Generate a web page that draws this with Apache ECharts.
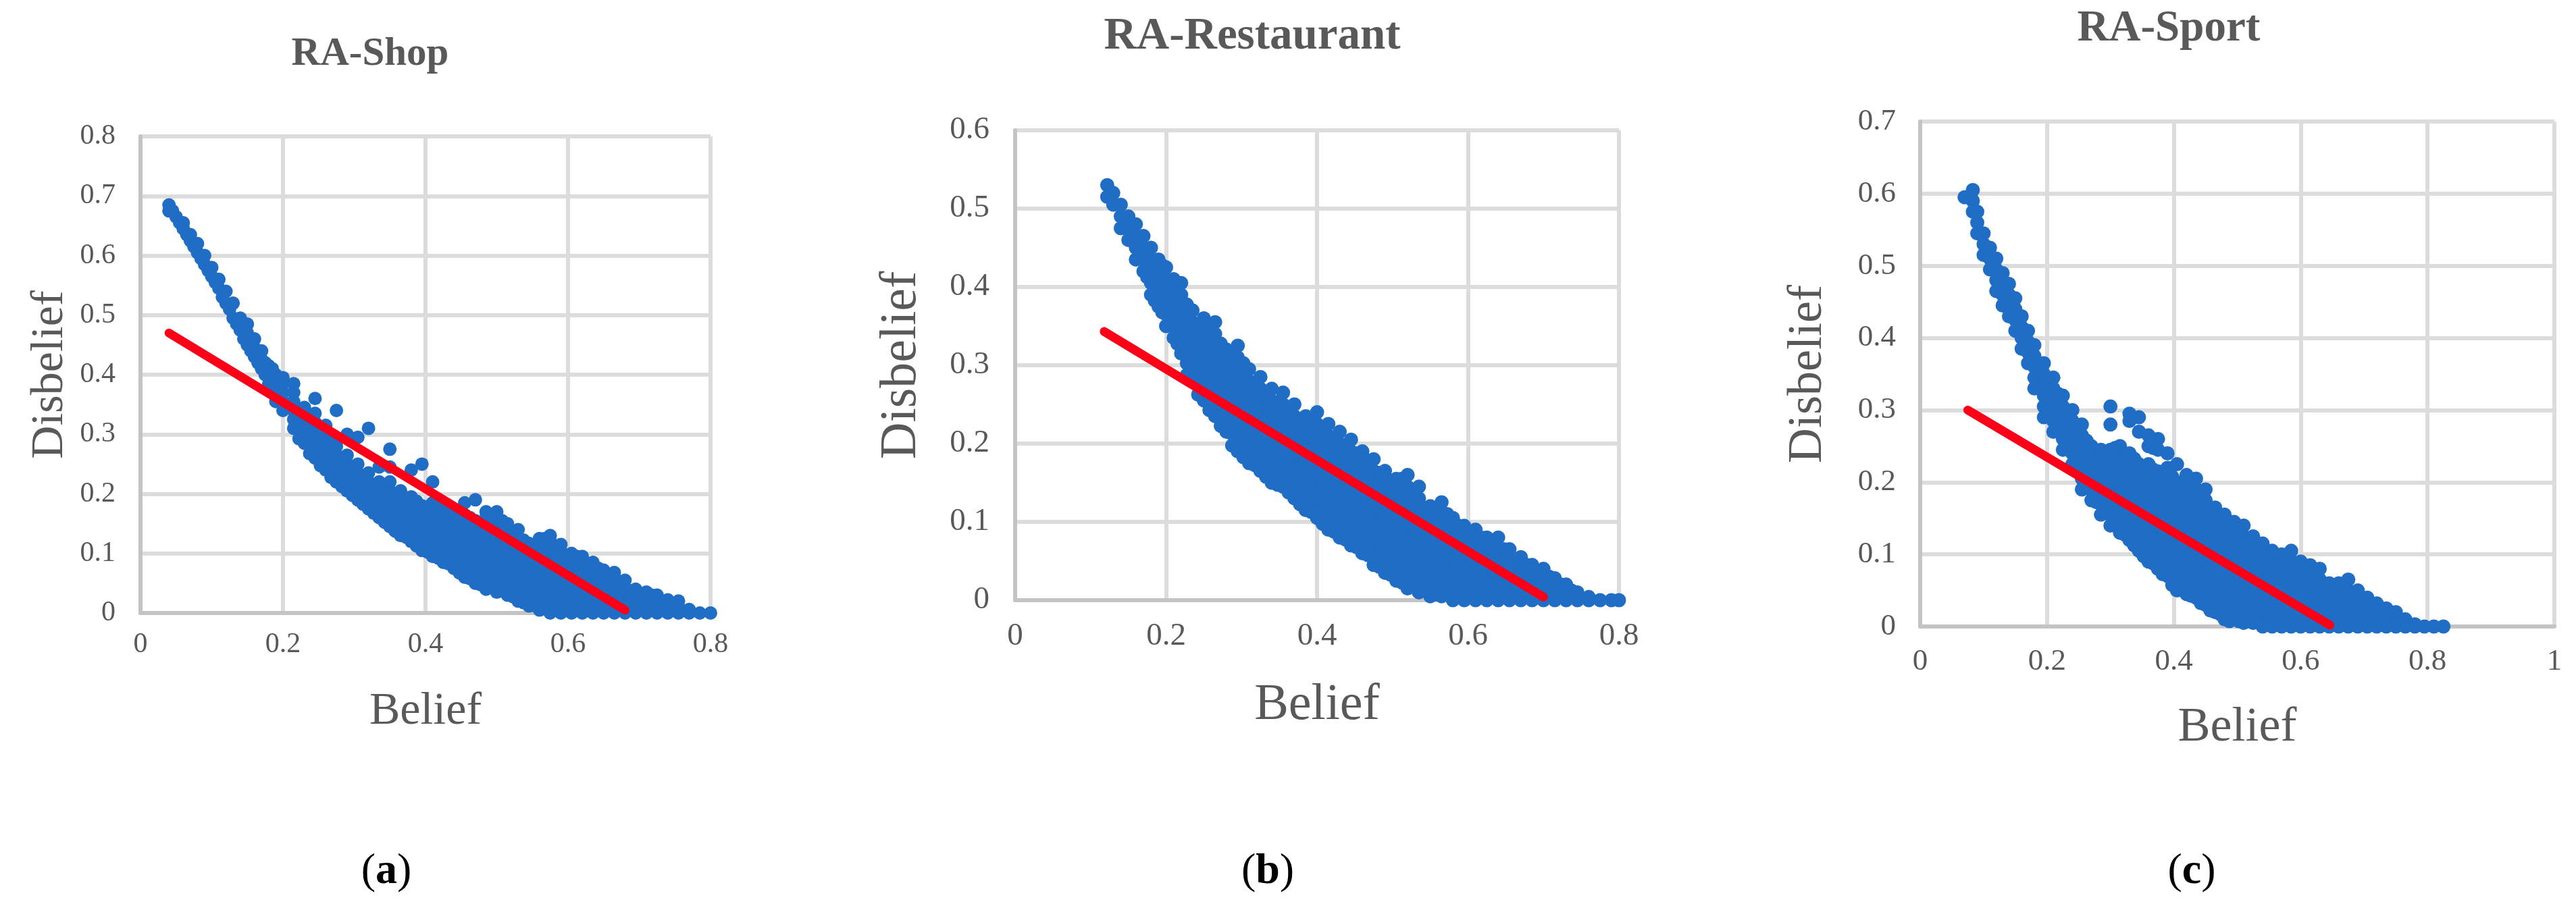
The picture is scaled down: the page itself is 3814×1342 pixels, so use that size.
<!DOCTYPE html>
<html>
<head>
<meta charset="utf-8">
<title>RA belief vs disbelief</title>
<script src="https://cdn.jsdelivr.net/npm/echarts@6/dist/echarts.min.js"></script>
<style>
  html, body { margin: 0; padding: 0; background: #fff; }
  #chart { width: 3814px; height: 1342px; }
</style>
</head>
<body>
<div id="chart"></div>
<script>
const shopBelief = [.04,.05,.06,.07,.08,.09,.10,.11,.12,.13,.14,.15,.16,.17,.18,.19,.20,.215,.23,.245,.26,.275,.29,.305,.32,.335,.35,.365,.38,.395,.41,.425,.44,.455,.47,.485,.50,.515,.53,.545,.56,.575,.59,.605,.62,.635,.65,.665,.68,.695,.71,.725,.74,.755,.77,.785,.80]
const shopDisbelief = [
  [.685,.675],[.665],[.645,.655],[.625,.635],[.605,.62],[.585,.60],[.565,.58],[.545,.56],[.52,.54],[.495,.52],
  [.475,.495],[.45,.47,.485],[.43,.445,.46],[.41,.425,.44],[.385,.40,.415],[.355,.37,.385,.40],[.34,.355,.37,.385,.395],
  [.31,.325,.34,.355,.37,.385],[.285,.30,.315,.33,.345],[.26,.275,.29,.305,.32,.335,.36],[.24,.255,.27,.285,.30,.315],
  [.22,.235,.25,.265,.28,.34],[.205,.22,.235,.25,.265,.30],[.19,.205,.22,.235,.25,.295],[.175,.19,.205,.22,.235,.31],
  [.16,.175,.19,.205,.22,.245],[.145,.16,.175,.19,.205,.22,.245,.275],[.13,.145,.16,.175,.19,.205],[.12,.135,.15,.165,.18,.195,.24],
  [.105,.12,.135,.15,.165,.18,.25],[.095,.11,.125,.14,.155,.17,.185,.22],[.085,.10,.115,.13,.145,.16,.175],[.075,.09,.105,.12,.135,.15,.165],
  [.06,.075,.09,.105,.12,.135,.15,.165,.185],[.05,.065,.08,.095,.11,.125,.14,.155,.19],[.04,.055,.07,.085,.10,.115,.13,.145,.16,.17],
  [.035,.05,.065,.08,.095,.11,.125,.14,.155,.17],[.03,.045,.06,.075,.09,.105,.12,.135,.15],[.02,.035,.05,.065,.08,.095,.11,.125,.14],
  [.012,.027,.042,.057,.072,.087,.102,.117],[.005,.02,.035,.05,.065,.08,.095,.11,.125],[0,.015,.03,.045,.06,.075,.09,.105,.12,.13],
  [0,.01,.025,.04,.055,.07,.085,.10,.115],[0,.015,.03,.045,.06,.075,.09,.10],[0,.012,.027,.042,.057,.072,.087,.095],[0,.015,.03,.045,.06,.075,.085],
  [0,.012,.027,.042,.057,.072],[0,.015,.03,.045,.06,.068],[0,.012,.027,.042,.055],[0,.015,.03,.04],[0,.012,.025,.035],[0,.015,.03],[0,.012,.022],
  [0,.01,.02],[0,.006],[0],[0]
]
// points in between the columns above, where the cloud is solid
const shopFillBelief = [.045,.055,.065,.075,.085,.095,.105,.115,.125,.135,.145,.155,.165,.175,.185,.2225,.2375,.2525,.2675,.2825,.2975,.3125,.3275,.3425,.3575,.3725,.3875,.4025,.4175,.4325,.4475,.4625,.4775,.4925,.5075,.5225,.5375,.5525,.5675,.5825,.5975,.6125,.6275,.6425,.6575,.6725,.6875,.7025,.7175,.7325,.7475]
const shopFillDisbelief = [
  [.675],[.655],[.635],[.615],[.595],[.575],[.555],[.53],[.51],[.485],[.46,.48],[.44,.46],[.42,.44],[.40,.42],[.38,.40,.41],
  [.2925,.3075,.3225,.3375],[.2675,.2825,.2975,.3125,.3275],[.2475,.2625,.2775,.2925,.3075],[.2275,.2425,.2575,.2725,.2875],[.2125,.2275,.2425,.2575],
  [.1975,.2125,.2275,.2425],[.1825,.1975,.2125,.2275],[.1675,.1825,.1975,.2125],[.1525,.1675,.1825,.1975,.2125],[.1375,.1525,.1675,.1825,.1975],
  [.1275,.1425,.1575,.1725,.1875],[.1125,.1275,.1425,.1575,.1725,.1875],[.1025,.1175,.1325,.1475,.1625,.1775],[.0925,.1075,.1225,.1375,.1525,.1675,.1775],
  [.0825,.0975,.1125,.1275,.1425,.1575,.17],[.0675,.0825,.0975,.1125,.1275,.1425,.1575],[.0575,.0725,.0875,.1025,.1175,.1325,.1475,.16],
  [.0475,.0625,.0775,.0925,.1075,.1225,.1375,.1525],[.0425,.0575,.0725,.0875,.1025,.1175,.1325,.1475,.16],[.0375,.0525,.0675,.0825,.0975,.1125,.1275,.1425,.155],
  [.0275,.0425,.0575,.0725,.0875,.1025,.1175,.1325],[.0175,.0325,.0475,.0625,.0775,.0925,.1075,.1225],[.0125,.0275,.0425,.0575,.0725,.0875,.1025,.115],
  [.0075,.0225,.0375,.0525,.0675,.0825,.0975,.1125,.125],[.0075,.0225,.0375,.0525,.0675,.0825,.0975,.1125],[.0075,.0225,.0375,.0525,.0675,.0825,.0975],
  [.0075,.0225,.0375,.0525,.0675,.0825,.095],[.0075,.0225,.0375,.0525,.0675,.08],[.0075,.0225,.0375,.0525,.0675,.075],[.0075,.0225,.0375,.0525,.0625],
  [.0075,.0225,.0375,.05],[.0075,.0225,.0375],[.0075,.0225,.0325],[.0075,.02,.03],[.0075,.02],[.0075,.015]
]
const shopLine = [[.04,.47],[.68,.005]]

const restaurantBelief = [.122,.13,.14,.15,.16,.17,.18,.19,.20,.21,.22,.235,.25,.265,.28,.295,.31,.325,.34,.355,.37,.385,.40,.415,.43,.445,.46,.475,.49,.505,.52,.535,.55,.565,.58,.595,.61,.625,.64,.655,.67,.685,.70,.715,.73,.745,.76,.775,.79,.80]
const restaurantDisbelief = [
  [.53,.515],[.52,.505],[.505,.49,.475],[.49,.475,.46],[.48,.465,.45,.435],[.465,.45,.435,.42],[.45,.435,.42,.405,.39],[.435,.42,.405,.39,.375],
  [.425,.41,.395,.38,.365,.35],[.41,.395,.38,.365,.35,.335],[.405,.39,.375,.36,.345,.33,.315],[.37,.355,.34,.325,.31,.295,.28],
  [.36,.345,.33,.315,.30,.285,.27,.255],[.355,.34,.325,.31,.295,.28,.265,.25,.235],[.32,.305,.29,.275,.26,.245,.23,.215],
  [.325,.31,.295,.28,.265,.25,.235,.22,.205,.19],[.295,.28,.265,.25,.235,.22,.205,.19,.175],[.285,.27,.255,.24,.225,.21,.195,.18,.165],
  [.27,.255,.24,.225,.21,.195,.18,.165,.15],[.265,.25,.235,.22,.205,.19,.175,.16,.145],[.25,.235,.22,.205,.19,.175,.16,.145,.13],
  [.235,.22,.205,.19,.175,.16,.145,.13,.115],[.24,.225,.21,.195,.18,.165,.15,.135,.12,.105],[.225,.21,.195,.18,.165,.15,.135,.12,.105,.09],
  [.215,.20,.185,.17,.155,.14,.125,.11,.095,.08],[.205,.19,.175,.16,.145,.13,.115,.10,.085,.07],[.19,.18,.165,.15,.135,.12,.105,.09,.075,.06],
  [.18,.165,.15,.135,.12,.105,.09,.075,.06,.045],[.165,.15,.135,.12,.105,.09,.075,.06,.045,.035],[.155,.14,.125,.11,.095,.08,.065,.05,.035,.025],
  [.16,.145,.13,.115,.10,.085,.07,.055,.04,.025,.015],[.145,.13,.115,.10,.085,.07,.055,.04,.025,.01],[.12,.105,.09,.075,.06,.045,.03,.015,.005],
  [.125,.11,.095,.08,.065,.05,.035,.02,.005],[.105,.09,.075,.06,.045,.03,.015,0],[.095,.08,.065,.05,.035,.02,.005,0],[.09,.075,.06,.045,.03,.015,0],
  [.08,.065,.05,.035,.02,.005,0],[.08,.065,.05,.035,.02,.005,0],[.065,.05,.035,.02,.005,0],[.055,.04,.025,.01,0],[.045,.03,.015,0],[.04,.025,.01,0],
  [.028,.014,0],[.02,.006,0],[.01,0],[.004,0],[0],[0],[0]
]
const restaurantFillBelief = [.165,.175,.185,.195,.205,.215,.2275,.2425,.2575,.2725,.2875,.3025,.3175,.3325,.3475,.3625,.3775,.3925,.4075,.4225,.4375,.4525,.4675,.4825,.4975,.5125,.5275,.5425,.5575,.5725,.5875,.6025,.6175,.6325,.6475,.6625,.6775,.6925,.7075,.7225,.7375]
const restaurantFillDisbelief = [
  [.4425,.4575],[.4125,.4275,.4425],[.3825,.3975,.4125,.4275],[.3675,.3825,.3975,.4125,.4275],[.3575,.3725,.3875,.4025],[.3275,.3425,.3575,.3725,.3875,.3975],
  [.2875,.3025,.3175,.3325,.3475,.3625,.3775],[.2625,.2775,.2925,.3075,.3225,.3375,.3525],[.2425,.2575,.2725,.2875,.3025,.3175,.3325,.3475],
  [.2225,.2375,.2525,.2675,.2825,.2975,.3125,.3275],[.1975,.2125,.2275,.2425,.2575,.2725,.2875,.3025,.3175],[.1825,.1975,.2125,.2275,.2425,.2575,.2725,.2875,.3025],
  [.1725,.1875,.2025,.2175,.2325,.2475,.2625,.2775],[.1575,.1725,.1875,.2025,.2175,.2325,.2475,.2625],[.1475,.1625,.1775,.1925,.2075,.2225,.2375,.2525],
  [.1375,.1525,.1675,.1825,.1975,.2125,.2275,.2425],[.1225,.1375,.1525,.1675,.1825,.1975,.2125,.2275],[.1125,.1275,.1425,.1575,.1725,.1875,.2025,.2175,.2325],
  [.0975,.1125,.1275,.1425,.1575,.1725,.1875,.2025,.2175],[.0875,.1025,.1175,.1325,.1475,.1625,.1775,.1925,.2075],[.0775,.0925,.1075,.1225,.1375,.1525,.1675,.1825,.1975],
  [.0675,.0825,.0975,.1125,.1275,.1425,.1575,.1725,.1875],[.0575,.0725,.0875,.1025,.1175,.1325,.1475,.1625,.1775],[.0425,.0575,.0725,.0875,.1025,.1175,.1325,.1475,.1625],
  [.0325,.0475,.0625,.0775,.0925,.1075,.1225,.1375,.1525],[.0225,.0375,.0525,.0675,.0825,.0975,.1125,.1275,.1425,.155],[.0175,.0325,.0475,.0625,.0775,.0925,.1075,.1225,.1375],
  [.0125,.0275,.0425,.0575,.0725,.0875,.1025,.1175],[.0075,.0225,.0375,.0525,.0675,.0825,.0975,.1125],[.0075,.0225,.0375,.0525,.0675,.0825,.0975,.11],
  [.0075,.0225,.0375,.0525,.0675,.0825,.095],[.0075,.0225,.0375,.0525,.0675,.0825],[.0075,.0225,.0375,.0525,.0675,.08],[.0075,.0225,.0375,.0525,.0675,.075],
  [.0075,.0225,.0375,.0525,.065],[.0075,.0225,.0375,.05],[.0075,.0225,.0375,.045],[.0075,.0225,.035],[.0075,.02,.03],[.0075,.02],[.0075,.012]
]
const restaurantLine = [[.118,.343],[.70,.004]]

const sportBelief = [.07,.083,.09,.10,.11,.12,.13,.14,.15,.16,.17,.18,.195,.21,.225,.24,.255,.27,.285,.30,.315,.33,.345,.36,.375,.39,.405,.42,.435,.45,.465,.48,.495,.51,.525,.54,.555,.57,.585,.60,.615,.63,.645,.66,.675,.69,.705,.72,.735,.75,.765,.78,.795,.81,.825]
const sportDisbelief = [
  [.595],[.605,.59,.575],[.575,.56,.545],[.545,.53,.515],[.525,.51,.495],[.51,.495,.48,.465],[.49,.475,.46,.445],[.475,.46,.445,.43],[.455,.44,.425,.41],
  [.43,.415,.40,.385],[.41,.395,.38,.365],[.39,.375,.36,.345,.33],[.365,.35,.335,.32,.305,.29],[.345,.33,.315,.30,.285,.27],[.32,.305,.29,.275,.26,.245],
  [.30,.285,.27,.255,.24,.225],[.28,.265,.25,.235,.22,.205,.19],[.25,.235,.22,.205,.19,.175],[.245,.23,.215,.20,.185,.17,.155],
  [.305,.28,.245,.23,.215,.20,.185,.17,.155,.14],[.25,.235,.22,.205,.19,.175,.16,.145,.13],[.295,.285,.24,.225,.21,.195,.18,.165,.15,.135,.12],
  [.29,.27,.225,.21,.195,.18,.165,.15,.135,.12,.105],[.265,.25,.225,.21,.195,.18,.165,.15,.135,.12,.105,.09],[.26,.245,.215,.20,.185,.17,.155,.14,.125,.11,.095,.08],
  [.24,.22,.205,.19,.175,.16,.145,.13,.115,.10,.085,.07],[.225,.20,.185,.17,.155,.14,.125,.11,.095,.08,.065,.05],[.21,.195,.18,.165,.15,.135,.12,.105,.09,.075,.06,.045],
  [.205,.19,.175,.16,.145,.13,.115,.10,.085,.07,.055,.04],[.19,.175,.16,.145,.13,.115,.10,.085,.07,.055,.04,.03],[.165,.15,.135,.12,.105,.09,.075,.06,.045,.03,.02],
  [.155,.14,.125,.11,.095,.08,.065,.05,.035,.02,.01],[.145,.13,.115,.10,.085,.07,.055,.04,.025,.01],[.14,.125,.11,.095,.08,.065,.05,.035,.02,.005],
  [.125,.11,.095,.08,.065,.05,.035,.02,.005],[.115,.10,.085,.07,.055,.04,.025,.01,0],[.105,.09,.075,.06,.045,.03,.015,0],[.10,.085,.07,.055,.04,.025,.01,0],
  [.105,.09,.075,.06,.045,.03,.015,0],[.09,.075,.06,.045,.03,.015,0],[.085,.07,.055,.04,.025,.01,0],[.08,.065,.05,.035,.02,.005,0],[.06,.045,.03,.015,0],
  [.06,.045,.03,.015,0],[.065,.05,.035,.02,.005,0],[.05,.035,.02,.005,0],[.04,.025,.01,0],[.032,.017,0],[.025,.01,0],[.02,.005,0],[.01,0],[.003,0],[0],[0],[0]
]
const sportFillBelief = [.2025,.2175,.2325,.2475,.2625,.2775,.2925,.3075,.3225,.3375,.3525,.3675,.3825,.3975,.4125,.4275,.4425,.4575,.4725,.4875,.5025,.5175,.5325,.5475,.5625,.5775,.5925,.6075,.6225,.6375,.6525,.6675,.6825,.6975,.7125,.7275]
const sportFillDisbelief = [
  [.2975,.3125,.3275,.3425],[.2775,.2925,.3075,.3225],[.2525,.2675,.2825,.2975],[.2275,.2425,.2575,.2725],[.1975,.2125,.2275,.2425,.2575],[.1725,.1875,.2025,.2175,.2325],
  [.1625,.1775,.1925,.2075,.2225,.2375],[.1425,.1575,.1725,.1875,.2025,.2175,.2325,.2475],[.1275,.1425,.1575,.1725,.1875,.2025,.2175,.2325],
  [.1125,.1275,.1425,.1575,.1725,.1875,.2025,.2175,.2325],[.0975,.1125,.1275,.1425,.1575,.1725,.1875,.2025,.2175],[.0875,.1025,.1175,.1325,.1475,.1625,.1775,.1925,.2075,.2175,.2475],
  [.0725,.0875,.1025,.1175,.1325,.1475,.1625,.1775,.1925,.2075],[.0575,.0725,.0875,.1025,.1175,.1325,.1475,.1625,.1775,.1925,.2075],[.0525,.0675,.0825,.0975,.1125,.1275,.1425,.1575,.1725,.1875],
  [.0425,.0575,.0725,.0875,.1025,.1175,.1325,.1475,.1625,.1775,.1925],[.0325,.0475,.0625,.0775,.0925,.1075,.1225,.1375,.1525,.1675,.1825],[.0225,.0375,.0525,.0675,.0825,.0975,.1125,.1275,.1425,.1575],
  [.0175,.0325,.0475,.0625,.0775,.0925,.1075,.1225,.1375,.15],[.0075,.0225,.0375,.0525,.0675,.0825,.0975,.1125,.1275,.1425],[.0075,.0225,.0375,.0525,.0675,.0825,.0975,.1125,.1275],
  [.0075,.0225,.0375,.0525,.0675,.0825,.0975,.1125],[.0075,.0225,.0375,.0525,.0675,.0825,.0975,.11],[.0075,.0225,.0375,.0525,.0675,.0825,.0975],[.0075,.0225,.0375,.0525,.0675,.0825],
  [.0075,.0225,.0375,.0525,.0675,.0825,.095],[.0075,.0225,.0375,.0525,.0675,.0825],[.0075,.0225,.0375,.0525,.0675,.08],[.0075,.0225,.0375,.0525,.0675],[.0075,.0225,.0375,.0525],
  [.0075,.0225,.0375,.05],[.0075,.0225,.0375,.0525],[.0075,.0225,.0375],[.0075,.0225,.035],[.0075,.02],[.0075,.02]
]
const sportLine = [[.075,.30],[.646,.002]]

const panelTitles = ['RA-Shop', 'RA-Restaurant', 'RA-Sport']
const panelLetters = ['a', 'b', 'c']
const xMax = [0.8, 0.8, 1]
const yMax = [0.8, 0.6, 0.7]

const toPoints = (xs, ys) => xs.flatMap((x, i) => ys[i].map(y => [x, y]))
const clouds = [
  [...toPoints(shopBelief, shopDisbelief), ...toPoints(shopFillBelief, shopFillDisbelief)],
  [...toPoints(restaurantBelief, restaurantDisbelief), ...toPoints(restaurantFillBelief, restaurantFillDisbelief)],
  [...toPoints(sportBelief, sportDisbelief), ...toPoints(sportFillBelief, sportFillDisbelief)]
]
const lines = [shopLine, restaurantLine, sportLine]

const BLUE = '#1f6dc5'
const RED = '#fb0016'
const GREY_TEXT = '#595959'
const SERIF = '"Liberation Serif", serif'

// pixel boxes of the three plots and the text sizes that go with them
const boxes = [
  { left: 208, top: 202, width: 844, height: 706, tick: 42, name: 68, gapX: 112, gapY: 100, marginX: 26, marginY: 37, dot: 20, title: 59, titleX: 543, titleY: 46, letterX: 567 },
  { left: 1503, top: 193, width: 894, height: 696, tick: 47, name: 76, gapX: 118, gapY: 130, marginX: 30, marginY: 38, dot: 21, title: 67, titleX: 1849, titleY: 16, letterX: 1872 },
  { left: 2843, top: 180, width: 939, height: 748, tick: 45, name: 72, gapX: 114, gapY: 130, marginX: 30, marginY: 36, dot: 21, title: 65, titleX: 3206, titleY: 6, letterX: 3240 }
]

const chart = echarts.init(document.getElementById('chart'))

const makeAxis = (b, i, isX) => ({
  type: 'value',
  gridIndex: i,
  min: 0,
  max: isX ? xMax[i] : yMax[i],
  interval: isX ? 0.2 : 0.1,
  name: isX ? 'Belief' : 'Disbelief',
  nameLocation: 'middle',
  nameGap: isX ? b.gapX : b.gapY,
  nameMoveOverlap: false,
  nameTextStyle: { fontFamily: SERIF, fontSize: b.name, color: GREY_TEXT },
  axisLine: { show: true, lineStyle: { color: '#c4c4c4', width: 6 } },
  axisTick: { show: false },
  axisLabel: { fontFamily: SERIF, fontSize: b.tick, color: GREY_TEXT, margin: isX ? b.marginX : b.marginY, showMinLabel: true, showMaxLabel: true },
  splitLine: { show: true, lineStyle: { color: '#dcdcdc', width: 6 } }
})

chart.setOption({
  animation: false,
  backgroundColor: '#fff',
  title: [
    ...boxes.map((b, i) => ({
      text: panelTitles[i],
      left: b.titleX,
      top: b.titleY,
      textAlign: 'center',
      textStyle: { fontFamily: SERIF, fontSize: b.title, fontWeight: 'bold', color: GREY_TEXT }
    })),
    ...boxes.map((b, i) => ({
      text: '({l|' + panelLetters[i] + '})',
      left: b.letterX,
      top: 1254,
      textAlign: 'center',
      textStyle: {
        fontFamily: SERIF, fontSize: 64, fontWeight: 'normal', color: '#000',
        rich: { l: { fontFamily: SERIF, fontSize: 64, fontWeight: 'bold', color: '#000' } }
      }
    }))
  ],
  grid: boxes.map(b => ({ left: b.left, top: b.top, width: b.width, height: b.height })),
  xAxis: boxes.map((b, i) => makeAxis(b, i, true)),
  yAxis: boxes.map((b, i) => makeAxis(b, i, false)),
  series: [
    ...boxes.map((b, i) => ({
      type: 'scatter',
      xAxisIndex: i,
      yAxisIndex: i,
      data: clouds[i],
      symbolSize: b.dot,
      clip: false,
      itemStyle: { color: BLUE, opacity: 1 }
    })),
    ...boxes.map((b, i) => ({
      type: 'line',
      xAxisIndex: i,
      yAxisIndex: i,
      data: lines[i],
      showSymbol: false,
      z: 5,
      lineStyle: { color: RED, width: 13, cap: 'round' }
    }))
  ]
})
</script>
</body>
</html>
